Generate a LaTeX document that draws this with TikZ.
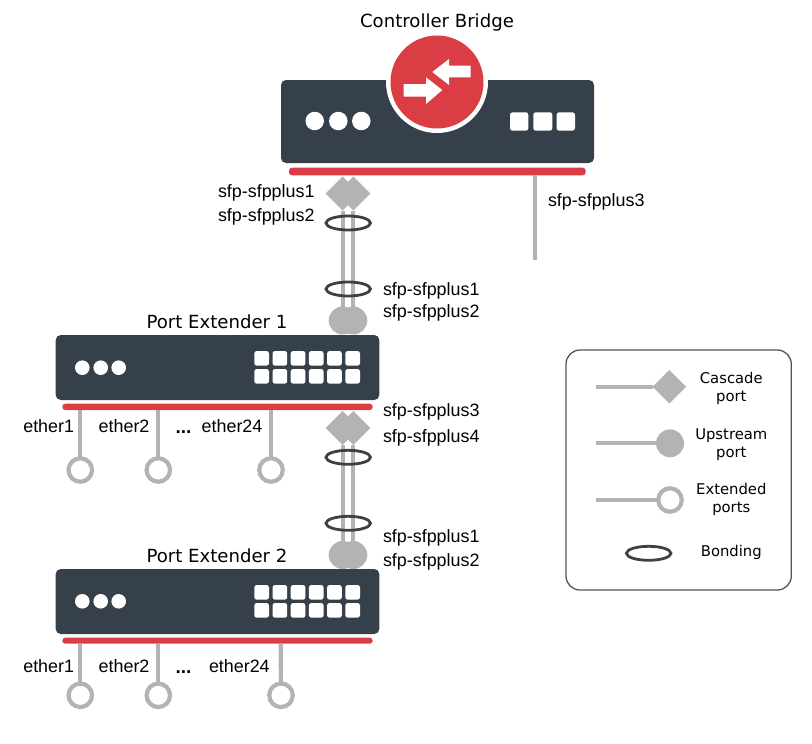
\documentclass[tikz,border=0pt]{standalone}
\usepackage{fontspec}
\setmainfont{Liberation Sans}
\newfontfamily\dejavu{DejaVu Sans}
\usetikzlibrary{shapes.geometric}
\definecolor{bodyc}{HTML}{36404A}
\definecolor{redc}{HTML}{DB3D45}
\definecolor{grayc}{HTML}{B3B3B3}
\definecolor{ringc}{HTML}{404040}
\definecolor{boxc}{HTML}{555555}
\tikzset{
  every node/.style={inner sep=0pt,outer sep=0pt},
  sfplabel/.style={anchor=west,font=\fontsize{17.9}{20}\selectfont,text=black},
  dotslabel/.style={anchor=west,font=\bfseries\fontsize{19}{20}\selectfont,text=black},
  title/.style={font=\dejavu\fontsize{18.1}{20}\selectfont,text=black},
  legendtext/.style={align=center,font=\dejavu\fontsize{14.8}{18.4}\selectfont,text=black},
  wire/.style={draw=grayc,line width=4.2pt},
  body/.style={fill=bodyc,rounded corners=5pt},
  redbar/.style={fill=redc,rounded corners=3pt},
  whitedot/.style={circle,fill=white,minimum size=#1},
  whitesq/.style={fill=white,rounded corners=2.5pt},
  cascade/.style={diamond,fill=grayc,minimum width=34pt,minimum height=34pt,aspect=1},
  upstream/.style={circle,fill=grayc,minimum size=28pt},
  extended/.style={circle,draw=grayc,fill=white,line width=4.2pt,minimum size=23.5pt},
  bond/.style={ellipse,draw=ringc,line width=2.8pt,fill=none,minimum width=44.5pt,minimum height=14pt},
}
\begin{document}
\begin{tikzpicture}[x=1pt,y=-1pt]
\useasboundingbox (0,0) rectangle (812,744);

% --- Controller Bridge
\fill[body] (281,80) rectangle (594,163);
\node[fill=white,circle,minimum size=102pt] (ringW) at (437,82) {};
\node[fill=redc,circle,minimum size=93pt] (ctrlcircle) at (437,82) {};
\fill[white] (432.3,72) -- (449,59) -- (449,65.7) -- (470.7,65.7) -- (470.7,77.3) -- (449,77.3) -- (449,85) -- cycle;
\fill[white] (442.3,90) -- (426,77.3) -- (426,84) -- (403.7,84) -- (403.7,96.7) -- (426,96.7) -- (426,104) -- cycle;
\foreach \x in {314.7,338.3,361.3} \node[whitedot=18.5pt] at (\x,121) {};
\fill[whitesq] (510,112.3) rectangle (528.3,130.7);
\fill[whitesq] (533.3,112.3) rectangle (552.3,130.7);
\fill[whitesq] (556.7,112.3) rectangle (575,130.7);
\fill[redbar] (289,167.7) rectangle (585.7,175.3);
\node[title] (tctrl) at (437,22.5) {Controller Bridge};

% ports from controller to PE1
\node[cascade] (c1a) at (342.7,193.5) {};
\node[cascade] (c1b) at (353.3,193.5) {};
\node[upstream] (u1a) at (342.7,320.5) {};
\node[upstream] (u1b) at (353.3,320.5) {};
\draw[wire] (c1a) -- (u1a);
\draw[wire] (c1b) -- (u1b);
\node[bond] (b1) at (348.2,223) {};
\node[bond] (b2) at (348.2,289) {};
\coordinate (s3top) at (535,175);
\coordinate (s3end) at (535,260);
\draw[wire] (s3top) -- (s3end);

\node[sfplabel] (l1) at (218,193) {sfp-sfpplus1};
\node[sfplabel] (l2) at (218,217) {sfp-sfpplus2};
\node[sfplabel] (l3) at (548,201.8) {sfp-sfpplus3};
\node[sfplabel] (l4) at (383,290.7) {sfp-sfpplus1};
\node[sfplabel] (l5) at (383,313) {sfp-sfpplus2};

% --- Port Extender 1
\node[title] (tpe1) at (217,322) {Port Extender 1};
\fill[body] (55.7,335) rectangle (379.3,400);
\foreach \x in {82.3,100.7,118.7} \node[whitedot=14.6pt] at (\x,367.7) {};
\foreach \i in {0,...,5}{
  \fill[whitesq] ({254.3+18.2*\i},351) rectangle ++(14.7,14.7);
  \fill[whitesq] ({254.3+18.2*\i},369) rectangle ++(14.7,14.7);
}
\fill[redbar] (62.3,403.7) rectangle (372.7,410);

\node[extended] (e11) at (80.3,470) {};
\node[extended] (e12) at (158.3,470) {};
\node[extended] (e13) at (271,470) {};
\coordinate (t11) at (80.3,410);
\coordinate (t12) at (158.3,410);
\coordinate (t13) at (271,410);
\draw[wire] (t11) -- (e11);
\draw[wire] (t12) -- (e12);
\draw[wire] (t13) -- (e13);
\node[sfplabel] (a1) at (23.3,426.5) {ether1};
\node[sfplabel] (a2) at (98.7,426.5) {ether2};
\node[dotslabel] (a3) at (175.5,432.5) {...};
\node[sfplabel] (a4) at (201.7,426.5) {ether24};

% ports from PE1 to PE2
\node[cascade] (c2a) at (342.7,428) {};
\node[cascade] (c2b) at (353.3,428) {};
\node[upstream] (u2a) at (342.7,555) {};
\node[upstream] (u2b) at (353.3,555) {};
\draw[wire] (c2a) -- (u2a);
\draw[wire] (c2b) -- (u2b);
\node[bond] (b3) at (348.2,457.3) {};
\node[bond] (b4) at (348.2,523.3) {};
\node[sfplabel] (l6) at (383,412) {sfp-sfpplus3};
\node[sfplabel] (l7) at (383,438) {sfp-sfpplus4};
\node[sfplabel] (l8) at (383,538) {sfp-sfpplus1};
\node[sfplabel] (l9) at (383,562.3) {sfp-sfpplus2};

% --- Port Extender 2
\node[title] (tpe2) at (217,555.5) {Port Extender 2};
\fill[body] (55.7,569) rectangle (379.3,634);
\foreach \x in {82.3,100.7,118.7} \node[whitedot=14.6pt] at (\x,601.3) {};
\foreach \i in {0,...,5}{
  \fill[whitesq] ({254.3+18.2*\i},585) rectangle ++(14.7,14.7);
  \fill[whitesq] ({254.3+18.2*\i},603) rectangle ++(14.7,14.7);
}
\fill[redbar] (62.3,637.7) rectangle (372.7,643.7);

\node[extended] (e21) at (80.3,695.3) {};
\node[extended] (e22) at (158.3,695.3) {};
\node[extended] (e23) at (281,695.3) {};
\coordinate (t21) at (80.3,643.7);
\coordinate (t22) at (158.3,643.7);
\coordinate (t23) at (280.7,643.7);
\draw[wire] (t21) -- (e21);
\draw[wire] (t22) -- (e22);
\draw[wire] (t23) -- (e23);
\node[sfplabel] (d1) at (23.3,666) {ether1};
\node[sfplabel] (d2) at (98.7,666) {ether2};
\node[dotslabel] (d3) at (175.5,672.5) {...};
\node[sfplabel] (d4) at (209,666) {ether24};

% --- Legend
\draw[boxc,line width=1.3pt,rounded corners=14pt] (566,350) rectangle (791.3,590);
\node[cascade,minimum width=33.5pt,minimum height=33.5pt] (kc) at (669.3,386.7) {};
\node[upstream] (ku) at (670,443.3) {};
\node[extended] (ke) at (670,500) {};
\coordinate (kc0) at (596,386.7);
\coordinate (ku0) at (596,443.3);
\coordinate (ke0) at (596,500);
\draw[wire] (kc0) -- (kc);
\draw[wire] (ku0) -- (ku);
\draw[wire] (ke0) -- (ke);
\node[bond] (kb) at (648.7,553.3) {};
\node[legendtext] (t1) at (731.3,388.5) {Cascade\\port};
\node[legendtext] (t2) at (731.3,444.5) {Upstream\\port};
\node[legendtext] (t3) at (731.3,499.5) {Extended\\ports};
\node[legendtext] (t4) at (731.3,552.3) {Bonding};
\end{tikzpicture}
\end{document}
